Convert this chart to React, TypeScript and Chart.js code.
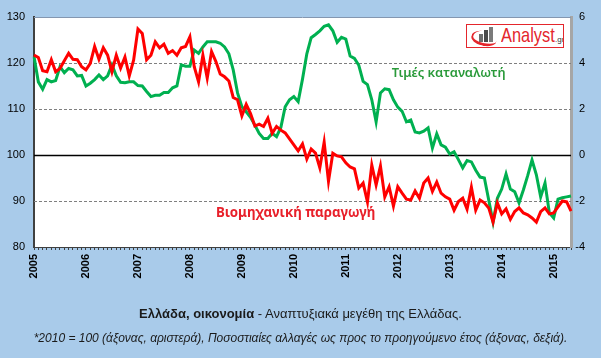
import React, { useEffect, useRef } from 'react';
import { Chart, registerables } from 'chart.js';

Chart.register(...registerables);

// ---- data ----
const yearLabels = ['2005', '2006', '2007', '2008', '2009', '2010', '2011', '2012', '2013', '2014', '2015'];
const monthCount = 125; // Jan 2005 .. May 2015

// Industrial production index (2010 = 100), left axis
const industrialProduction = [
  121.7, 121.2, 118.3, 118.1, 120.7, 118.1, 118.8, 120.5, 122.1, 120.8,
  120.7, 119.2, 118.5, 119.9, 123.6, 120.8, 123.3, 121.7, 118.1, 121.7,
  118.9, 121.3, 117.2, 120.6, 127.4, 126.4, 120.7, 121.7, 124.6, 123.3,
  124.1, 122.1, 122.7, 121.7, 123.3, 123.6, 125.7, 119.2, 115.9, 121.7,
  116.7, 122.5, 120.3, 117.6, 117.0, 116.1, 112.5, 112.0, 108.5, 111.0,
  109.0, 106.3, 106.7, 106.2, 108.0, 104.7, 106.2, 105.4, 104.8, 103.5,
  102.2, 100.9, 102.4, 99.1, 101.3, 100.4, 97.2, 102.8, 94.3, 100.4,
  99.8, 99.6, 98.3, 97.4, 97.0, 92.8, 93.9, 89.8, 97.8, 93.5,
  97.6, 90.9, 93.1, 88.9, 93.1, 91.7, 90.4, 90.2, 92.2, 90.6,
  93.9, 95.0, 92.1, 94.1, 91.7, 90.9, 90.4, 88.0, 89.9, 90.6,
  88.2, 93.0, 88.0, 90.2, 89.6, 88.5, 85.4, 89.6, 87.2, 88.3,
  86.0, 87.7, 88.5, 87.4, 87.0, 86.3, 85.4, 87.7, 88.5, 87.2,
  87.4, 88.7, 90.0, 89.8, 87.8,
];

// Consumer prices, % change y/y, right axis
const consumerPrices = [
  4.28, 3.18, 2.86, 3.28, 3.18, 3.24, 3.84, 3.58, 3.76, 3.70,
  3.44, 3.46, 3.00, 3.12, 3.28, 3.48, 3.28, 3.44, 3.92, 3.44,
  3.16, 3.14, 3.18, 3.18, 3.02, 3.00, 2.76, 2.54, 2.60, 2.60,
  2.72, 2.72, 2.92, 3.00, 3.92, 3.86, 3.86, 4.56, 4.42, 4.70,
  4.92, 4.92, 4.92, 4.86, 4.70, 4.40, 3.70, 2.70, 2.10, 1.88,
  1.64, 1.30, 0.94, 0.72, 0.72, 0.94, 0.80, 1.20, 2.10, 2.40,
  2.54, 2.32, 3.30, 4.40, 5.10, 5.24, 5.40, 5.60, 5.66, 5.40,
  4.90, 5.12, 5.04, 4.30, 4.20, 3.90, 3.20, 3.06, 2.40, 1.44,
  2.70, 2.88, 2.84, 2.40, 2.08, 1.90, 1.44, 1.52, 1.00, 0.96,
  1.04, 1.18, 0.30, 0.92, 0.44, 0.34, 0.04, 0.14, -0.20, -0.56,
  -0.24, -0.30, -0.66, -0.96, -1.00, -1.96, -2.92, -1.88, -1.48, -0.82,
  -1.48, -1.60, -2.08, -1.52, -0.90, -0.22, -0.86, -1.82, -1.22, -2.52,
  -2.74, -1.92, -1.86, -1.82, -1.78,
];

const leftTicks = [80, 90, 100, 110, 120, 130];
const rightTicks = [-4, -2, 0, 2, 4, 6];
const dashedLevels = [90, 110, 120];
const baseLevel = 100;

const seriesNames = ['Βιομηχανική παραγωγή', 'Τιμές καταναλωτή'];
const titleBold = 'Ελλάδα, οικονομία';
const titleRest = ' - Αναπτυξιακά μεγέθη της Ελλάδας.';
const subtitle = '*2010 = 100 (άξονας, αριστερά), Ποσοστιαίες αλλαγές ως προς το προηγούμενο έτος (άξονας, δεξιά).';

const monthLabels: string[] = yearLabels
  .flatMap((y) => ['01', '02', '03', '04', '05', '06', '07', '08', '09', '10', '11', '12'].map((m) => `${y}-${m}`))
  .slice(0, monthCount);

const BG = '#a9cbea';
const RED = '#ff0000';
const GREEN = '#00b050';

const decorPlugin = {
  id: 'decor',
  beforeDraw(chart: any) {
    const { ctx, chartArea: a, width, height } = chart;
    ctx.save();
    ctx.fillStyle = BG;
    ctx.fillRect(0, 0, width, height);
    ctx.fillStyle = '#ffffff';
    ctx.fillRect(a.left, a.top, a.right - a.left, a.bottom - a.top);
    ctx.restore();
  },
  beforeDatasetsDraw(chart: any) {
    const { ctx, chartArea: a, scales } = chart;
    const y = scales.y;
    ctx.save();
    ctx.lineWidth = 1;
    ctx.strokeStyle = '#7f7f7f';
    ctx.setLineDash([3, 2]);
    dashedLevels.forEach((v) => {
      const py = Math.round(y.getPixelForValue(v)) + 0.5;
      ctx.beginPath();
      ctx.moveTo(a.left, py);
      ctx.lineTo(a.right, py);
      ctx.stroke();
    });
    ctx.setLineDash([]);
    ctx.strokeStyle = '#000000';
    ctx.lineWidth = 1.5;
    const p0 = Math.round(y.getPixelForValue(baseLevel)) + 0.5;
    ctx.beginPath();
    ctx.moveTo(a.left, p0);
    ctx.lineTo(a.right, p0);
    ctx.stroke();
    // top frame
    ctx.strokeStyle = '#8497b0';
    ctx.lineWidth = 1;
    ctx.beginPath();
    ctx.moveTo(a.left, a.top + 0.5);
    ctx.lineTo(a.right, a.top + 0.5);
    ctx.stroke();
    ctx.restore();
  },
  afterDatasetsDraw(chart: any) {
    const { ctx, scales } = chart;
    const x = scales.x;
    const y = scales.y;
    ctx.save();
    ctx.textBaseline = 'middle';
    ctx.textAlign = 'left';
    ctx.font = 'bold 13.3px "Noto Sans"';
    ctx.fillStyle = '#e8202a';
    ctx.fillText(seriesNames[0], x.getPixelForValue(42), y.getPixelForValue(87.4));
    ctx.font = '600 12.9px "Noto Sans"';
    ctx.fillStyle = '#2a9a3a';
    ctx.fillText(seriesNames[1], x.getPixelForValue(82.6), y.getPixelForValue(117.8));
    ctx.restore();
  },
};

function App() {
  const ref = useRef<HTMLCanvasElement | null>(null);

  useEffect(() => {
    if (!ref.current) return;
    const chart = new Chart(ref.current, {
      type: 'line',
      data: {
        labels: monthLabels,
        datasets: [
          {
            label: seriesNames[0],
            data: industrialProduction,
            borderColor: RED,
            backgroundColor: RED,
            borderWidth: 3,
            pointRadius: 0,
            tension: 0,
            yAxisID: 'y',
          },
          {
            label: seriesNames[1],
            data: consumerPrices,
            borderColor: GREEN,
            backgroundColor: GREEN,
            borderWidth: 3,
            pointRadius: 0,
            tension: 0,
            yAxisID: 'y1',
          },
        ],
      },
      options: {
        responsive: false,
        animation: false,
        events: [],
        layout: { padding: { top: 17, left: 0, right: 16, bottom: 0 } },
        plugins: { legend: { display: false }, tooltip: { enabled: false }, title: { display: false } },
        scales: {
          x: {
            type: 'category',
            offset: false,
            grid: { drawOnChartArea: false, drawTicks: true, tickLength: 3, color: '#404040', lineWidth: 1 },
            border: { display: true, color: '#404040', width: 1 },
            ticks: {
              autoSkip: false,
              minRotation: 90,
              maxRotation: 90,
              padding: 4,
              color: '#000000',
              font: { family: '"Liberation Sans", Arial, sans-serif', size: 11, weight: 'bold' },
              callback: (_v: any, i: number) => (i % 12 === 0 ? yearLabels[i / 12] : ''),
            },
            afterFit: (s: any) => {
              s.height = 111;
            },
          },
          y: {
            position: 'left',
            min: leftTicks[0],
            max: leftTicks[leftTicks.length - 1],
            afterBuildTicks: (s: any) => {
              s.ticks = leftTicks.map((v) => ({ value: v }));
            },
            grid: { drawOnChartArea: false, drawTicks: false },
            border: { display: true, color: '#404040', width: 2 },
            ticks: {
              padding: 9,
              color: '#000000',
              font: { family: '"Liberation Sans", Arial, sans-serif', size: 11 },
            },
            afterFit: (s: any) => {
              s.width = 34;
            },
          },
          y1: {
            position: 'right',
            min: rightTicks[0],
            max: rightTicks[rightTicks.length - 1],
            afterBuildTicks: (s: any) => {
              s.ticks = rightTicks.map((v) => ({ value: v }));
            },
            grid: { drawOnChartArea: false, drawTicks: false },
            border: { display: true, color: '#a6a6a6', width: 3 },
            ticks: {
              padding: 4,
              crossAlign: 'far',
              color: '#000000',
              font: { family: '"Liberation Sans", Arial, sans-serif', size: 11 },
            },
            afterFit: (s: any) => {
              s.width = 14;
            },
          },
        },
      },
      plugins: [decorPlugin],
    } as any);
    return () => chart.destroy();
  }, []);

  const font = '"Liberation Sans", Arial, sans-serif';
  return (
    <div style={{ position: 'fixed', left: 0, top: 0, width: 601, height: 358, background: BG, overflow: 'hidden' }}>
      <canvas ref={ref} width={601} height={358} style={{ display: 'block', position: 'absolute', left: 0, top: 0 }} />
      <div
        style={{
          position: 'absolute', left: 466, top: 24, width: 96, height: 22, border: '1px solid #e4262c',
          background: '#ffffff', overflow: 'hidden',
        }}
      >
        <div style={{ position: 'absolute', left: 12, top: 9, width: 4, height: 8, background: '#6d6d6d' }} />
        <div style={{ position: 'absolute', left: 17, top: 5, width: 4, height: 12, background: '#4a4a4a' }} />
        <div style={{ position: 'absolute', left: 22, top: 2, width: 4, height: 15, background: '#7a7a7a' }} />
        <div
          style={{
            position: 'absolute', left: 4, top: 6, width: 24, height: 12, borderRadius: '50%',
            borderBottom: '3px solid #e4262c', borderLeft: '2px solid #e4262c', transform: 'rotate(12deg)',
          }}
        />
        <div
          style={{
            position: 'absolute', left: 34, top: -2, fontFamily: font, fontSize: 21, color: '#e4262c',
            transform: 'scaleX(0.78)', transformOrigin: 'left top', whiteSpace: 'nowrap', lineHeight: '24px',
          }}
        >
          Analyst
        </div>
        <div style={{ position: 'absolute', left: 88, top: 10, fontFamily: font, fontSize: 8, color: '#333', lineHeight: '10px' }}>
          .gr
        </div>
      </div>
      <div
        style={{
          position: 'absolute', left: 0, top: 306, width: 601, textAlign: 'center', fontFamily: font,
          fontSize: 13, color: '#1a1a1a', whiteSpace: 'nowrap', lineHeight: '16px',
        }}
      >
        <b>{titleBold}</b>
        {titleRest}
      </div>
      <div
        style={{
          position: 'absolute', left: 0, top: 331, width: 601, textAlign: 'center', fontFamily: font,
          fontSize: 12, fontStyle: 'italic', color: '#1a1a1a', whiteSpace: 'nowrap', lineHeight: '15px',
        }}
      >
        {subtitle}
      </div>
    </div>
  );
}

export default App;
